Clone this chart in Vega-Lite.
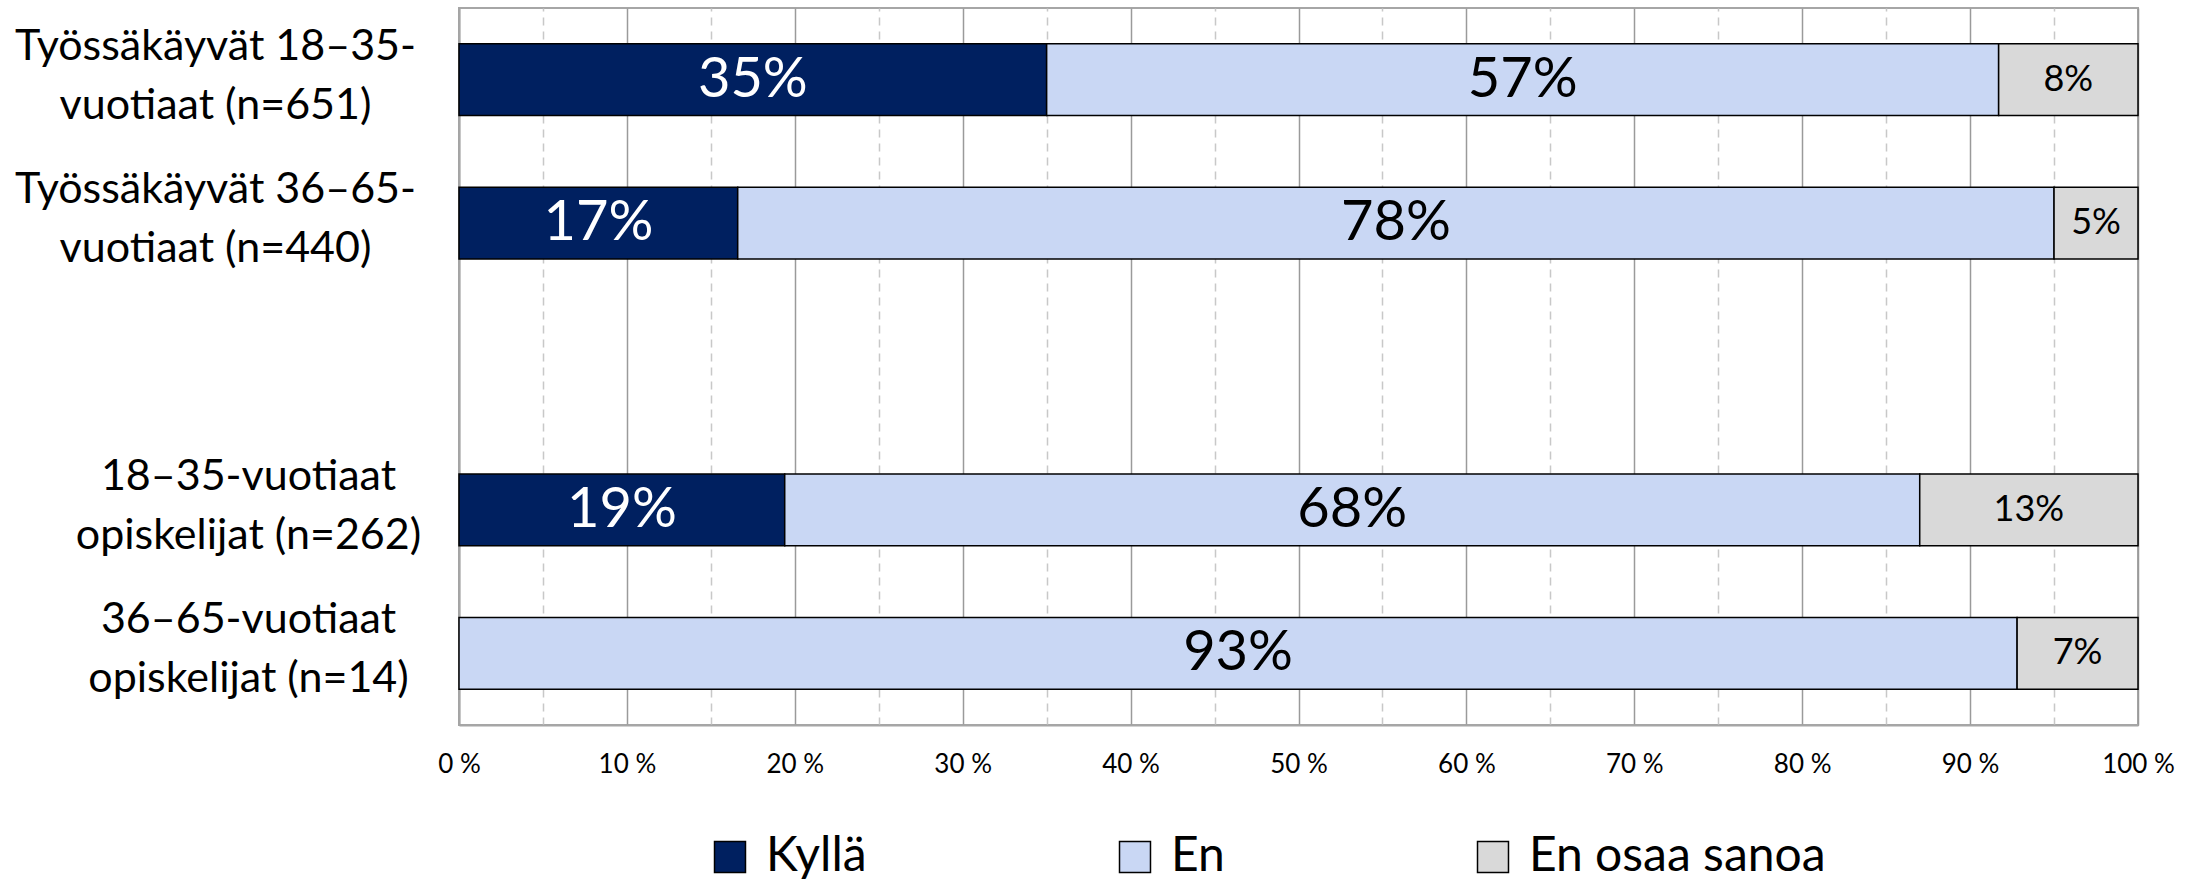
{
  "$schema": "https://vega.github.io/schema/vega-lite/v6.json",
  "width": 1679,
  "height": 717,
  "autosize": {"type": "none"},
  "padding": {"left": 459, "top": 8, "right": 65, "bottom": 162},
  "background": "white",
  "config": {"view": {"stroke": "#A6A6A6", "strokeWidth": 2}, "font": "Lato"},
  "data": {
    "values": [
      {"ryhma": "Työssäkäyvät 18–35-|vuotiaat (n=651)", "vastaus": "Kyllä", "j": 1, "osuus": 0.350},
      {"ryhma": "Työssäkäyvät 18–35-|vuotiaat (n=651)", "vastaus": "En", "j": 2, "osuus": 0.567},
      {"ryhma": "Työssäkäyvät 18–35-|vuotiaat (n=651)", "vastaus": "En osaa sanoa", "j": 3, "osuus": 0.083},
      {"ryhma": "Työssäkäyvät 36–65-|vuotiaat (n=440)", "vastaus": "Kyllä", "j": 1, "osuus": 0.166},
      {"ryhma": "Työssäkäyvät 36–65-|vuotiaat (n=440)", "vastaus": "En", "j": 2, "osuus": 0.784},
      {"ryhma": "Työssäkäyvät 36–65-|vuotiaat (n=440)", "vastaus": "En osaa sanoa", "j": 3, "osuus": 0.050},
      {"ryhma": "18–35-vuotiaat|opiskelijat (n=262)", "vastaus": "Kyllä", "j": 1, "osuus": 0.194},
      {"ryhma": "18–35-vuotiaat|opiskelijat (n=262)", "vastaus": "En", "j": 2, "osuus": 0.676},
      {"ryhma": "18–35-vuotiaat|opiskelijat (n=262)", "vastaus": "En osaa sanoa", "j": 3, "osuus": 0.130},
      {"ryhma": "36–65-vuotiaat|opiskelijat (n=14)", "vastaus": "En", "j": 2, "osuus": 0.928},
      {"ryhma": "36–65-vuotiaat|opiskelijat (n=14)", "vastaus": "En osaa sanoa", "j": 3, "osuus": 0.072}
    ]
  },
  "encoding": {
    "y": {
      "field": "ryhma",
      "type": "nominal",
      "scale": {
        "domain": ["Työssäkäyvät 18–35-|vuotiaat (n=651)", "Työssäkäyvät 36–65-|vuotiaat (n=440)", " ", "18–35-vuotiaat|opiskelijat (n=262)", "36–65-vuotiaat|opiskelijat (n=14)"],
        "paddingInner": 0.5,
        "paddingOuter": 0.25
      },
      "axis": {
        "title": null,
        "ticks": false,
        "domainColor": "#A6A6A6",
        "domainWidth": 2,
        "labelFont": "Lato",
        "labelFontSize": 43,
        "labelColor": "black",
        "labelLineHeight": 59,
        "labelAlign": "center",
        "labelBaseline": "middle",
        "labelLimit": 700,
        "labelOffset": -33,
        "labelPadding": {"condition": {"test": "indexof(datum.value, 'Työ') === 0", "value": 244}, "value": 211},
        "labelExpr": "split(datum.label, '|')"
      }
    }
  },
  "layer": [
    {
      "mark": {"type": "bar", "stroke": "black", "strokeWidth": 1.5},
      "encoding": {
        "x": {
          "field": "osuus",
          "type": "quantitative",
          "stack": "zero",
          "scale": {"domain": [0, 1], "nice": false},
          "axis": {
            "title": null,
            "values": [0, 0.05, 0.1, 0.15, 0.2, 0.25, 0.3, 0.35, 0.4, 0.45, 0.5, 0.55, 0.6, 0.65, 0.7, 0.75, 0.8, 0.85, 0.9, 0.95, 1],
            "ticks": false,
            "domainColor": "#A6A6A6",
            "domainWidth": 2,
            "grid": true,
            "gridColor": {"condition": {"test": "round(datum.value*100) % 10 !== 0", "value": "#C8C8C8"}, "value": "#9A9A9A"},
            "gridDash": {"condition": {"test": "round(datum.value*100) % 10 !== 0", "value": [8, 6]}, "value": []},
            "gridWidth": 1.5,
            "labelExpr": "round(datum.value*100) % 10 === 0 ? round(datum.value*100) + ' %' : ''",
            "labelFont": "Lato",
            "labelFontSize": 26,
            "labelColor": "black",
            "labelPadding": 26,
            "labelFlush": false
          }
        },
        "color": {
          "field": "vastaus",
          "type": "nominal",
          "scale": {"domain": ["Kyllä", "En", "En osaa sanoa"], "range": ["#002060", "#C9D7F4", "#D9D9D9"]},
          "legend": {
            "title": null,
            "orient": "none",
            "direction": "horizontal",
            "legendX": 247,
            "legendY": 825,
            "symbolType": "square",
            "symbolSize": 960,
            "symbolStrokeColor": "black",
            "symbolStrokeWidth": 1.5,
            "symbolOpacity": 1,
            "labelFont": "Lato",
            "labelFontSize": 48,
            "labelColor": "black",
            "labelOffset": 12,
            "labelLimit": 600,
            "columnPadding": 244
          }
        },
        "order": {"field": "j", "type": "quantitative"}
      }
    },
    {
      "mark": {"type": "text", "baseline": "middle", "align": "center", "font": "Lato"},
      "encoding": {
        "x": {"field": "osuus", "type": "quantitative", "stack": "zero", "bandPosition": 0.5},
        "detail": {"field": "vastaus"},
        "order": {"field": "j", "type": "quantitative"},
        "text": {"field": "osuus", "type": "quantitative", "format": ".0%"},
        "color": {"condition": {"test": "datum.vastaus === 'Kyllä'", "value": "white"}, "value": "black"},
        "size": {"condition": {"test": "datum.vastaus === 'En osaa sanoa'", "value": 36}, "value": 56}
      }
    }
  ]
}
